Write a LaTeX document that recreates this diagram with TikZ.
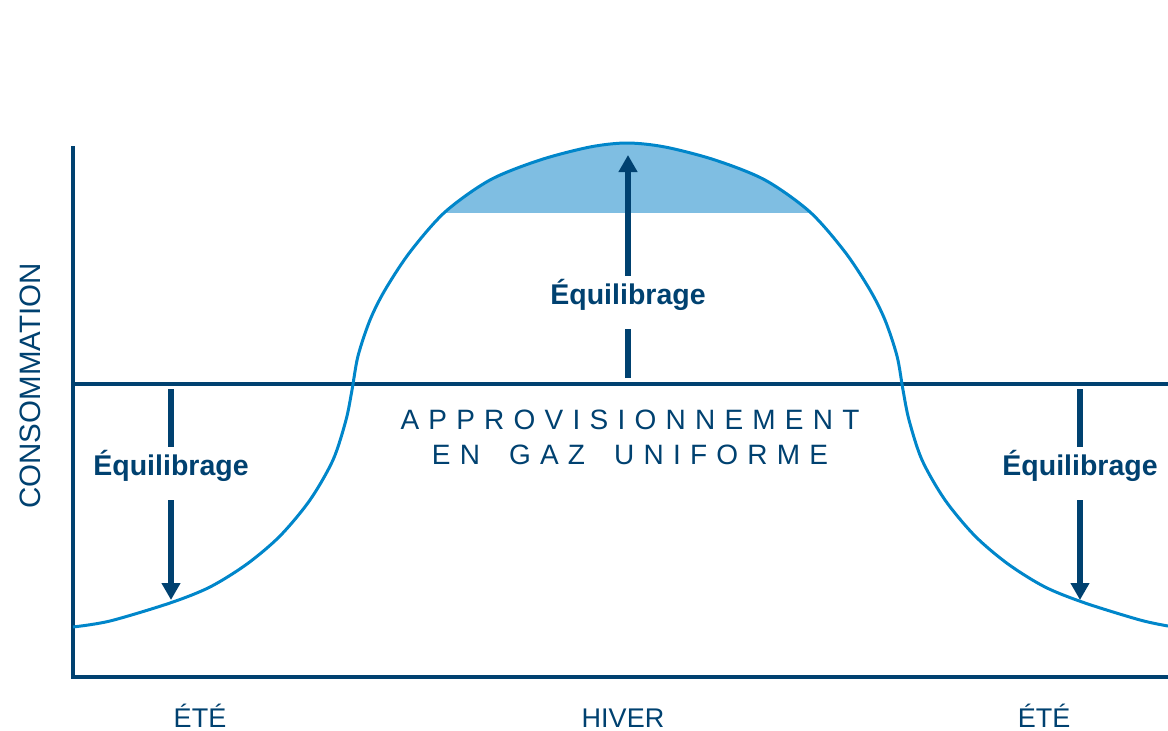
\documentclass[tikz,border=0pt]{standalone}
\usepackage{fontspec}
\setmainfont{Liberation Sans}
\usetikzlibrary{arrows.meta}
\definecolor{navy}{RGB}{0,65,112}
\definecolor{gasblue}{RGB}{0,134,202}
\definecolor{peakfill}{RGB}{127,190,226}
\begin{document}
\begin{tikzpicture}[x=1pt,y=-1pt,
  axis/.style={navy,line width=3.5pt},
  curve/.style={gasblue,line width=3pt},
  shaft/.style={navy,line width=6pt},
  tip/.style={-{Triangle[width=18pt,length=17pt]}},
  balance/.style={navy,inner sep=0pt,anchor=base,font=\fontsize{28.5}{34}\bfseries},
  season/.style={navy,inner sep=0pt,anchor=base,font=\fontsize{27}{32}\selectfont}]
\useasboundingbox (0,0) rectangle (1168,731);
% consumption curve, dome filled above 212
\path[save path=\gaspath] plot[smooth,tension=0.5] coordinates {(73,627) (110,621) (170,603) (210,587) (247,564) (280,536) (310,500) (333,460) (346,420) (352,390) (358,356) (370,320) (385,290) (410,252) (445,212) (490,180) (540,160) (590,147) (627,143) (665,147) (715,160) (765,180) (810,212) (845,252) (870,290) (885,320) (897,356) (903,390) (909,420) (922,460) (945,500) (975,536) (1008,564) (1045,587) (1085,603) (1140,620) (1168,626)};
\begin{scope}
\clip (73,0) rectangle (1168,212);
\fill[peakfill,use path=\gaspath];
\end{scope}
% axes and uniform supply
\coordinate (yTop) at (73,146);
\coordinate (origin) at (73,677);
\coordinate (xEnd) at (1168,677);
\draw[axis] (yTop) -- (origin) -- (xEnd);
\coordinate (supL) at (73,384);
\coordinate (supR) at (1168,384);
\draw[axis,line width=4pt] (supL) -- (supR);
\draw[curve,use path=\gaspath];
% balancing arrows
\node[balance] (eqC) at (628,304) {Équilibrage};
\node[balance] (eqL) at (171,475) {Équilibrage};
\node[balance] (eqR) at (1080,475) {Équilibrage};
\coordinate (cFoot) at (628,378);
\coordinate (cTip) at (628,155);
\coordinate (lTop) at (171,389);
\coordinate (lTip) at (171,600);
\coordinate (rTop) at (1080,389);
\coordinate (rTip) at (1080,600);
\draw[shaft] (cFoot) -- ([yshift=-19pt]eqC.south);
\draw[shaft,tip] ([yshift=3pt]eqC.north) -- (cTip);
\draw[shaft] (lTop) -- ([yshift=3pt]eqL.north);
\draw[shaft,tip] ([yshift=-19pt]eqL.south) -- (lTip);
\draw[shaft] (rTop) -- ([yshift=3pt]eqR.north);
\draw[shaft,tip] ([yshift=-19pt]eqR.south) -- (rTip);
% labels
\node[navy,inner sep=0pt,align=center,font=\fontsize{28}{35}\selectfont\addfontfeature{LetterSpace=33}] (supply) at (630,437.5) {APPROVISIONNEMENT\\EN\hspace{12pt} GAZ\hspace{12pt} UNIFORME};
\node[navy,inner sep=0pt,rotate=90,anchor=base,font=\fontsize{29.5}{34}\selectfont] (cons) at (40,386) {CONSOMMATION};
\node[season] (summerL) at (200,727) {ÉTÉ};
\node[season] (winter) at (623,727) {HIVER};
\node[season] (summerR) at (1044,727) {ÉTÉ};
\end{tikzpicture}
\end{document}
